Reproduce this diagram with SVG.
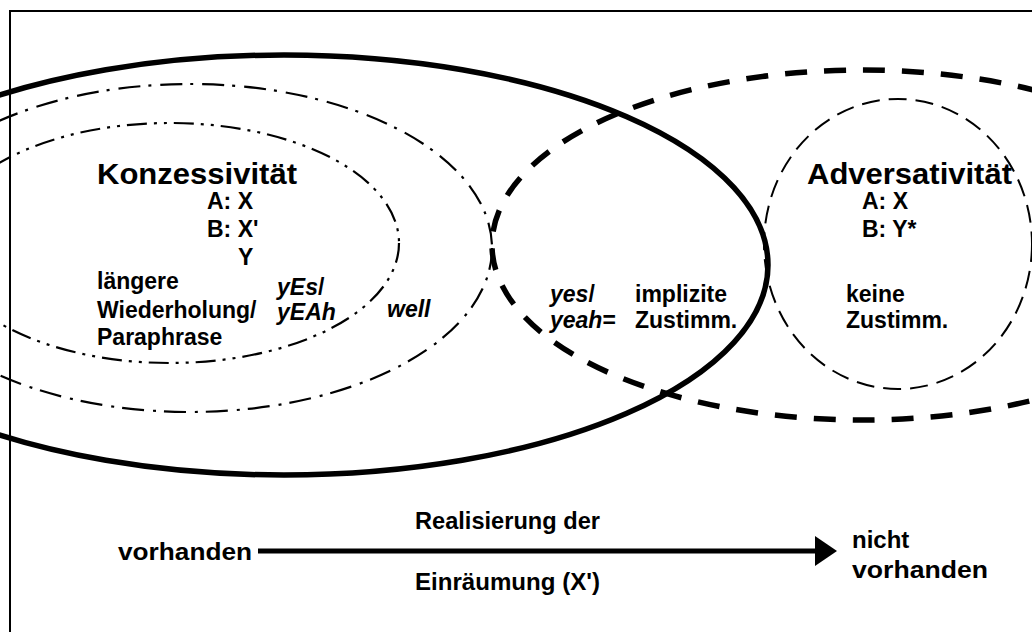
<svg xmlns="http://www.w3.org/2000/svg" width="1032" height="632" viewBox="0 0 1032 632">
<style>
  .t { font-family: "Liberation Sans", Arial, sans-serif; font-weight: bold; font-size: 23px; fill: #000; }
  .title { font-size: 30px; }
  .it { font-style: italic; }
  .b { font-size: 24px; }
  .shape { fill: none; stroke: #000; }
</style>
<rect x="0" y="0" width="1032" height="632" fill="#fff"/>
<rect x="10" y="11" width="1040" height="650" fill="none" stroke="#000" stroke-width="2"/>
<g id="shapes">
  <ellipse id="solid" class="shape" cx="284" cy="265" rx="484" ry="210" stroke-width="5.5"/>
  <ellipse id="outer-dashdot" class="shape" cx="190" cy="248" rx="302" ry="164" stroke-width="2.2" stroke-dasharray="22 8 3 9"/>
  <ellipse id="inner-dashdotdot" class="shape" cx="170" cy="243" rx="229" ry="120" stroke-width="2.2" stroke-dasharray="20 7 3 7 3 7"/>
  <ellipse id="big-dashed" class="shape" cx="862" cy="245" rx="370" ry="175" stroke-width="5.5" stroke-dasharray="22 17"/>
  <ellipse id="thin-dashed" class="shape" cx="898" cy="244" rx="134" ry="145" stroke-width="2" stroke-dasharray="18 9"/>
</g>
<g id="konzessivitaet">
  <text class="t title" x="97" y="184" textLength="200" lengthAdjust="spacingAndGlyphs">Konzessivität</text>
  <text class="t" x="207" y="209">A: X</text>
  <text class="t" x="207" y="237">B: X'</text>
  <text class="t" x="238" y="265">Y</text>
  <text class="t" x="97" y="289">längere</text>
  <text class="t" x="97" y="318">Wiederholung/</text>
  <text class="t" x="97" y="345">Paraphrase</text>
  <text class="t" x="277" y="295"><tspan class="it">yEs</tspan>/</text>
  <text class="t it" x="277" y="320">yEAh</text>
  <text class="t it" x="387" y="317">well</text>
</g>
<g id="overlap">
  <text class="t" x="550" y="302"><tspan class="it">yes</tspan>/</text>
  <text class="t" x="550" y="328"><tspan class="it">yeah</tspan>=</text>
  <text class="t" x="635" y="302">implizite</text>
  <text class="t" x="635" y="328">Zustimm.</text>
</g>
<g id="adversativitaet">
  <text class="t title" x="807" y="184" textLength="205" lengthAdjust="spacingAndGlyphs">Adversativität</text>
  <text class="t" x="862" y="209">A: X</text>
  <text class="t" x="862" y="237">B: Y*</text>
  <text class="t" x="846" y="302">keine</text>
  <text class="t" x="846" y="328">Zustimm.</text>
</g>
<g id="connectors">
  <line x1="258" y1="551" x2="818" y2="551" stroke="#000" stroke-width="5"/>
  <polygon points="815,536 837,551 815,566" fill="#000"/>
</g>
<g id="scale-labels">
  <text class="t b" x="118" y="560" textLength="134" lengthAdjust="spacingAndGlyphs">vorhanden</text>
  <text class="t b" x="415" y="529" textLength="185" lengthAdjust="spacingAndGlyphs">Realisierung der</text>
  <text class="t b" x="415" y="590" textLength="185" lengthAdjust="spacingAndGlyphs">Einräumung (X')</text>
  <text class="t b" x="852" y="548">nicht</text>
  <text class="t b" x="852" y="578" textLength="136" lengthAdjust="spacingAndGlyphs">vorhanden</text>
</g>
</svg>
